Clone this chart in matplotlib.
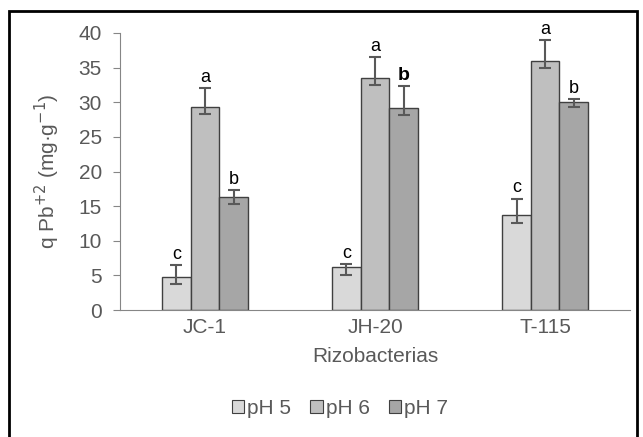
import matplotlib
matplotlib.use("Agg")
import matplotlib.pyplot as plt
from matplotlib.patches import Rectangle, Patch
import numpy as np

plt.rcParams['font.family'] = ['Liberation Sans', 'DejaVu Sans']

categories = ["JC-1", "JH-20", "T-115"]
series = ["pH 5", "pH 6", "pH 7"]
values = {
    "pH 5": [4.7, 6.2, 13.7],
    "pH 6": [29.3, 33.5, 36.0],
    "pH 7": [16.3, 29.2, 30.0],
}
err_low = {
    "pH 5": [1.0, 1.1, 1.1],
    "pH 6": [1.0, 1.0, 1.1],
    "pH 7": [1.0, 1.1, 0.7],
}
err_high = {
    "pH 5": [1.8, 0.5, 2.4],
    "pH 6": [2.7, 3.0, 3.0],
    "pH 7": [1.0, 3.1, 0.4],
}
letters = {
    "pH 5": ["c", "c", "c"],
    "pH 6": ["a", "a", "a"],
    "pH 7": ["b", "b", "b"],
}
colors = {"pH 5": "#d9d9d9", "pH 6": "#bfbfbf", "pH 7": "#a6a6a6"}

fig = plt.figure(figsize=(6.43, 4.37), dpi=100)
ax = fig.add_axes([0.1866, 0.2906, 0.7934, 0.6339])

x = np.arange(len(categories))
w = 0.168
for i, s in enumerate(series):
    pos = x + (i - 1) * w
    ax.bar(pos, values[s], width=w, color=colors[s], edgecolor="#404040",
           linewidth=1.0, label=s, zorder=2)
    ax.errorbar(pos, values[s], yerr=[err_low[s], err_high[s]], fmt="none",
                ecolor="#595959", elinewidth=1.5, capsize=4, capthick=1.5, zorder=3)
    for j, p in enumerate(pos):
        top = values[s][j] + err_high[s][j]
        bold = (s == "pH 7" and j == 1)
        ax.text(p, top + 0.3, letters[s][j], ha="center", va="bottom",
                fontsize=14 if bold else 13, fontweight="bold" if bold else "normal",
                color="black")

ax.set_xlim(-0.5, 2.5)
ax.set_ylim(0, 40)
ax.set_yticks(range(0, 41, 5))
ax.set_xticks(x)
ax.set_xticklabels(categories)
for sp in ["top", "right"]:
    ax.spines[sp].set_visible(False)
ax.spines["left"].set_color("#868686")
ax.spines["bottom"].set_color("#868686")
ax.tick_params(axis="y", colors="#868686", labelcolor="#595959", labelsize=15, length=5, direction="out", pad=8)
ax.tick_params(axis="x", length=0, labelcolor="#595959", labelsize=15, pad=6)
ax.set_xlabel("Rizobacterias", fontsize=15, color="#595959", labelpad=7)
ax.set_ylabel("q Pb$^{+2}$ (mg·g$^{-1}$)", fontsize=15, color="#595959", labelpad=12)

handles = [Patch(facecolor=colors[s], edgecolor="#404040", linewidth=0.8) for s in series]
fig.legend(handles, series, loc="center", bbox_to_anchor=(340/643, 1-408/437),
           ncol=3, frameon=False, fontsize=15, handlelength=0.6, handleheight=0.6,
           handletextpad=0.15, columnspacing=0.9, labelcolor="#595959")

fig.patches.append(Rectangle((9/643, -0.05), (637-9)/643, 1.05 - 11/437,
                             transform=fig.transFigure, fill=False,
                             edgecolor="black", linewidth=2))
fig.savefig("out.png", dpi=100)
